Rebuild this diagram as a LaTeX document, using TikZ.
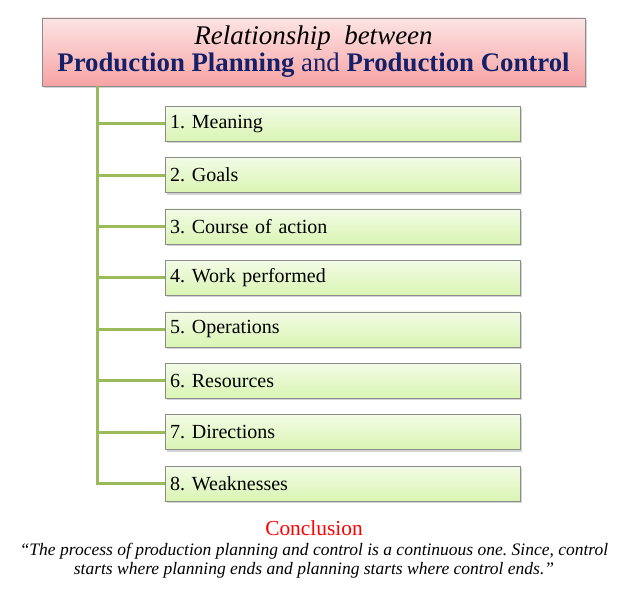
\documentclass[tikz,border=0pt]{standalone}
\usepackage{fontspec}
\setmainfont{Liberation Serif}
\usetikzlibrary{positioning,shadows}
\definecolor{navy}{HTML}{14206A}
\definecolor{stem}{HTML}{9BBB59}
\definecolor{edge}{HTML}{8C8C8C}
\definecolor{pinktop}{HTML}{FDE4E4}
\definecolor{pinkbot}{HTML}{F7A3A3}
\definecolor{leaftop}{HTML}{F3FBE6}
\definecolor{leafbot}{HTML}{D9F5B3}
\frenchspacing
\begin{document}
\begin{tikzpicture}[x=1pt,y=-1pt,
 head/.style={draw=edge,top color=pinktop,bottom color=pinkbot,align=center,
              minimum width=543pt,minimum height=68pt,inner sep=0pt,
              drop shadow={shadow xshift=2pt,shadow yshift=-2pt,opacity=.35}},
 item/.style={draw=edge,top color=leaftop,bottom color=leafbot,anchor=north west,
              minimum width=355pt,minimum height=35pt,text width=345pt,inner sep=5pt,
              font=\fontsize{20}{22}\selectfont,
              drop shadow={shadow xshift=2pt,shadow yshift=-2pt,opacity=.35}},
 branch/.style={draw=stem,line width=3pt}]
\useasboundingbox (0,0) rectangle (635,596);
\node[head] (title) at (313.5,52) {{\fontsize{27}{28}\selectfont\itshape Relationship\ \ between}\\[1.5pt]
  {\fontsize{26.8}{28}\selectfont\color{navy}\textbf{Production Planning} and \textbf{Production Control}}};
\node[item] (meaning) at (165,106) {1. Meaning};
\node[item,below=16pt of meaning.south west,anchor=north west] (goals) {2. Goals};
\node[item,below=16pt of goals.south west,anchor=north west] (course) {3. Course of action};
\node[item,below=16pt of course.south west,anchor=north west] (work) {4. Work performed};
\node[item,below=16pt of work.south west,anchor=north west] (oper) {5. Operations};
\node[item,below=16pt of oper.south west,anchor=north west] (resour) {6. Resources};
\node[item,below=16pt of resour.south west,anchor=north west] (direct) {7. Directions};
\node[item,below=16pt of direct.south west,anchor=north west] (weak) {8. Weaknesses};
\coordinate (trunk) at (97,86);
\draw[branch] (trunk) |- (weak.west);
\draw[branch] (trunk |- meaning.west)--(meaning.west);
\draw[branch] (trunk |- goals.west)--(goals.west);
\draw[branch] (trunk |- course.west)--(course.west);
\draw[branch] (trunk |- work.west)--(work.west);
\draw[branch] (trunk |- oper.west)--(oper.west);
\draw[branch] (trunk |- resour.west)--(resour.west);
\draw[branch] (trunk |- direct.west)--(direct.west);
% conclusion text
\node[text=red,font=\fontsize{21.4}{24}\selectfont] (concl) at (314,528) {Conclusion};
\node[align=center,font=\fontsize{17.5}{18.5}\selectfont\itshape,below=1pt of concl] (quote)
 {``The process of production planning and control is a continuous one. Since, control\\
  starts where planning ends and planning starts where control ends.''};
\end{tikzpicture}
\end{document}
